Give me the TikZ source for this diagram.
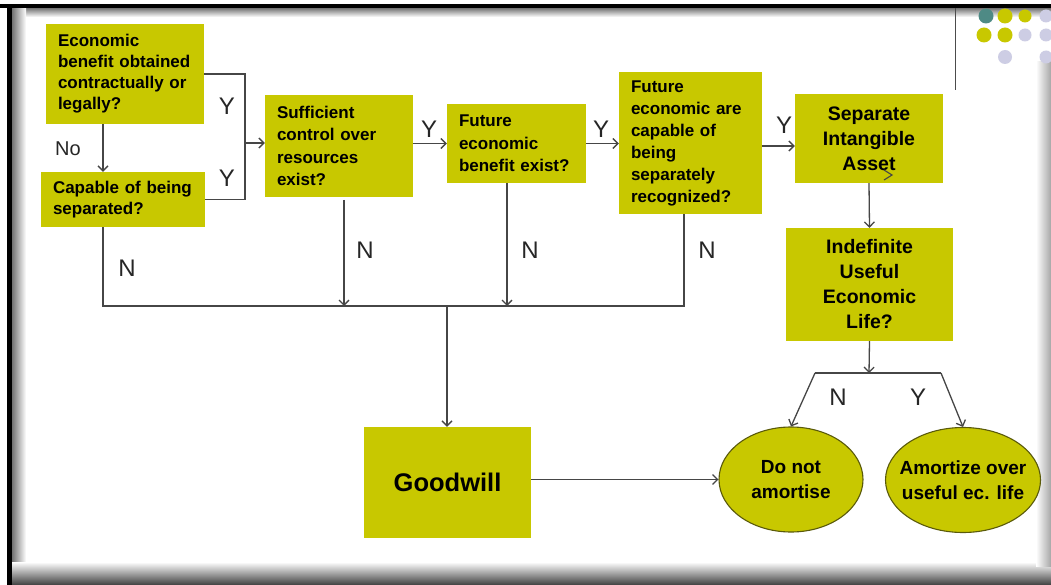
\documentclass[tikz,border=0pt]{standalone}
\usepackage{fontspec}
\setmainfont{Liberation Sans}
\usetikzlibrary{shapes.geometric,arrows.meta}
\definecolor{olivey}{RGB}{200,200,0}
\definecolor{ellline}{RGB}{90,90,10}
\definecolor{conn}{RGB}{70,70,70}
\definecolor{tealdot}{RGB}{78,138,133}
\definecolor{lavdot}{RGB}{205,205,228}
\tikzset{
  qbox/.style={rectangle, fill=olivey, inner ysep=0pt, inner xsep=12pt, align=left, text=black},
  cbox/.style={rectangle, fill=olivey, inner sep=0pt, align=center, text=black},
  oval/.style={ellipse, fill=olivey, draw=ellline, line width=1.1pt, inner sep=0pt},
  small/.style={font=\bfseries\fontsize{17}{21}\selectfont},
  mid/.style={font=\bfseries\fontsize{17}{22.5}\selectfont},
  big/.style={font=\bfseries\fontsize{19.5}{25}\selectfont},
  conline/.style={draw=conn, line width=1.3pt},
  arr/.style={conline, -{Straight Barb[length=5pt,width=10pt]}},
  lbl/.style={font=\fontsize{24}{24}\selectfont, text=black!85, inner sep=0pt},
}
\begin{document}
\begin{tikzpicture}[x=1pt,y=-1pt]
\useasboundingbox (0,0) rectangle (1051,585);
% frame
\fill[white] (0,0) rectangle (1051,585);
\shade[top color=black!55, bottom color=white] (12,8) rectangle (1051,17);
\shade[left color=black!55, right color=white] (12,8) rectangle (26,585);
\shade[top color=white, bottom color=black!75] (12,562) rectangle (1051,585);
\shade[left color=white, right color=black!35] (1036,62) rectangle (1051,566);
\fill[black] (0,4.5) rectangle (1051,8);
\fill[black] (7,8) rectangle (12,585);
% slide decoration
\draw[black!70, line width=1pt] (955,8) -- (955,90);
\fill[tealdot] (986,16) circle (7.5);
\fill[olivey] (1005,16) circle (7.5);
\fill[olivey] (1025,16) circle (6.5);
\fill[lavdot] (1046,16) circle (6.5);
\fill[olivey] (984,35) circle (7.5);
\fill[olivey] (1005,35) circle (7.5);
\fill[lavdot] (1025,35) circle (6.5);
\fill[lavdot] (1046,35) circle (6.5);
\fill[lavdot] (1005,57) circle (7);
\fill[lavdot] (1046,57) circle (6.5);

% boxes
\node[qbox, small, text width=134pt, minimum height=100pt] (A) at (125,74)
  {Economic\\benefit obtained\\contractually or\\legally?};
\node[qbox, small, text width=140pt, minimum height=55pt] (B) at (123,199.5)
  {Capable of being\\separated?};
\node[qbox, mid, text width=124pt, minimum height=102pt] (C) at (339,146)
  {Sufficient\\control over\\resources\\exist?};
\node[qbox, mid, text width=115pt, minimum height=79pt] (D) at (516.5,143.5)
  {Future\\economic\\benefit exist?};
\node[qbox, font=\bfseries\fontsize{17}{22}\selectfont, text width=119pt, minimum height=142pt] (E) at (690.5,143)
  {Future\\economic are\\capable of\\being\\separately\\recognized?};
\node[cbox, big, minimum width=148pt, minimum height=89pt] (F) at (869,138.5)
  {Separate\\Intangible\\Asset};
\node[cbox, big, minimum width=167pt, minimum height=113pt] (G) at (869.5,284.5)
  {Indefinite\\Useful\\Economic\\Life?};
\node[cbox, font=\bfseries\fontsize{25.5}{28}\selectfont, minimum width=167pt, minimum height=111pt] (GW) at (447.5,482.5)
  {Goodwill};
\node[oval, minimum width=144pt, minimum height=105pt] (E1) at (791,479.5) {};
\node[oval, minimum width=155pt, minimum height=105pt] (E2) at (963,480) {};
\node[align=center, font=\bfseries\fontsize{19}{25}\selectfont, inner sep=0pt] (E1t) at (E1.center) {Do not\\amortise};
\node[align=center, font=\bfseries\fontsize{19}{25}\selectfont, inner sep=0pt] (E2t) at (E2.center) {Amortize over\\useful ec. life};

% helper coordinates
\coordinate (br) at (245,143);
\coordinate (j1) at (103,306);
\coordinate (jC) at (344,306);
\coordinate (jD) at (507,306);
\coordinate (jE) at (684,306);
\coordinate (jG) at (447,306);
\coordinate (ef) at (0,146);
\coordinate (sp) at (869,373);
\coordinate (spl) at (815,373);
\coordinate (spr) at (941,373);
\coordinate (cs) at (344,200);

% connectors
\draw[arr] (A.south -| j1) -- (B.north -| j1);
\draw[conline] (A.east) -- (A.east -| br) -- (B.east -| br) -- (B.east);
\draw[arr] (br) -- (C.west |- br);
\draw[arr] (C.east |- D.west) -- (D.west);
\draw[arr] (D.east) -- (E.west |- D.east);
\draw[arr] (E.east |- ef) -- (F.west |- ef);
\draw[arr] (F.south) -- (G.north);
\draw[conline] (B.south -| j1) -- (j1) -- (jE) -- (E.south -| jE);
\draw[arr] (cs) -- (jC);
\draw[arr] (D.south -| jD) -- (jD);
\draw[arr] (jG) -- (GW.north -| jG);
\draw[arr] (GW.east |- E1.west) -- (E1.west);
\draw[arr] (G.south) -- (sp);
\draw[conline] (spl) -- (spr);
\draw[arr] (spl) -- (E1.north);
\draw[arr] (spr) -- (E2.north);
% stray arrow mark
\draw[conline, line width=1.1pt] (884,170) -- (892,175) -- (884,180);

% labels
\node[lbl] (yA) at (227,106) {Y};
\node[lbl] (yB) at (227,178) {Y};
\node[lbl, font=\fontsize{20}{20}\selectfont] (no) at (68,149) {No};
\node[lbl] (yC) at (429,129) {Y};
\node[lbl] (yD) at (601,129) {Y};
\node[lbl] (yE) at (784,125) {Y};
\node[lbl] (nB) at (127,268) {N};
\node[lbl] (nC) at (365,250) {N};
\node[lbl] (nD) at (530,250) {N};
\node[lbl] (nE) at (707,250) {N};
\node[lbl] (nG) at (838,397) {N};
\node[lbl] (yG) at (918,397) {Y};
\end{tikzpicture}
\end{document}
